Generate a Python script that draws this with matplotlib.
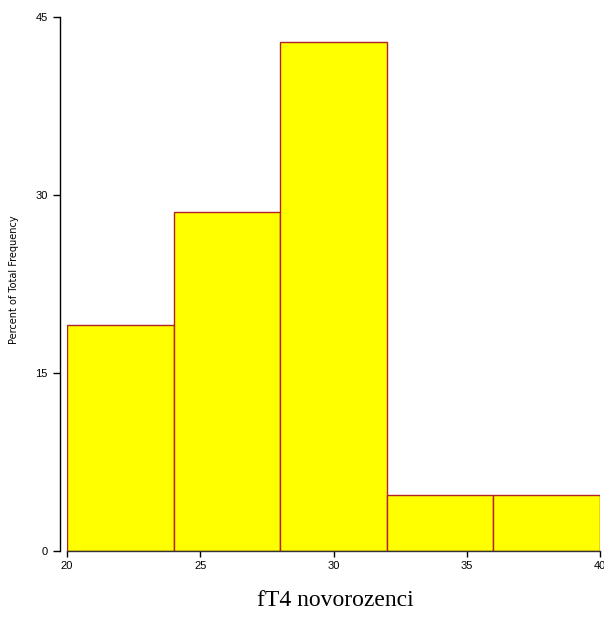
import numpy as np
import matplotlib
matplotlib.use('Agg')
from matplotlib import pyplot as plt

# histogram of fT4 in newborns, percent of total per bin
bin_edges = [20, 24, 28, 32, 36, 40]
percent = [19.05, 28.57, 42.86, 4.76, 4.76]
xticks = [20, 25, 30, 35, 40]
yticks = [0, 15, 30, 45]

W, H = 604, 618
fig = plt.figure(figsize=(W / 100, H / 100), dpi=100)
ax = fig.add_axes([67 / W, (H - 551) / H, (600 - 67) / W, (551 - 17) / H])

lefts = np.array(bin_edges[:-1])
widths = np.diff(bin_edges)
ax.bar(lefts, percent, width=widths, align='edge', color='#ffff00',
       edgecolor='#b22222', linewidth=1.0)

ax.set_xlim(20, 40)
ax.set_ylim(0, 45)
ax.set_xticks(xticks)
ax.set_yticks(yticks)

for s in ['top', 'right']:
    ax.spines[s].set_visible(False)
ax.spines['left'].set_position(('outward', 5))
ax.spines['left'].set_linewidth(1.0)
ax.spines['bottom'].set_linewidth(1.0)
ax.spines['bottom'].set_color('#333333')

ax.tick_params(axis='y', length=5, width=1, direction='out',
               labelsize=8, pad=4)
ax.tick_params(axis='x', length=4.5, width=1, direction='out',
               labelsize=8, pad=3)
for lab in ax.get_xticklabels() + ax.get_yticklabels():
    lab.set_family('Liberation Sans')

fig.text(14 / W, 1 - 280 / H, 'Percent of Total Frequency', rotation=90,
         ha='center', va='center', fontsize=7, family='DejaVu Sans')
fig.text(335 / W, 1 - 606 / H, 'fT4 novorozenci', ha='center',
         va='baseline', fontsize=17, family='Liberation Serif')

fig.savefig('out.png', dpi=100)
